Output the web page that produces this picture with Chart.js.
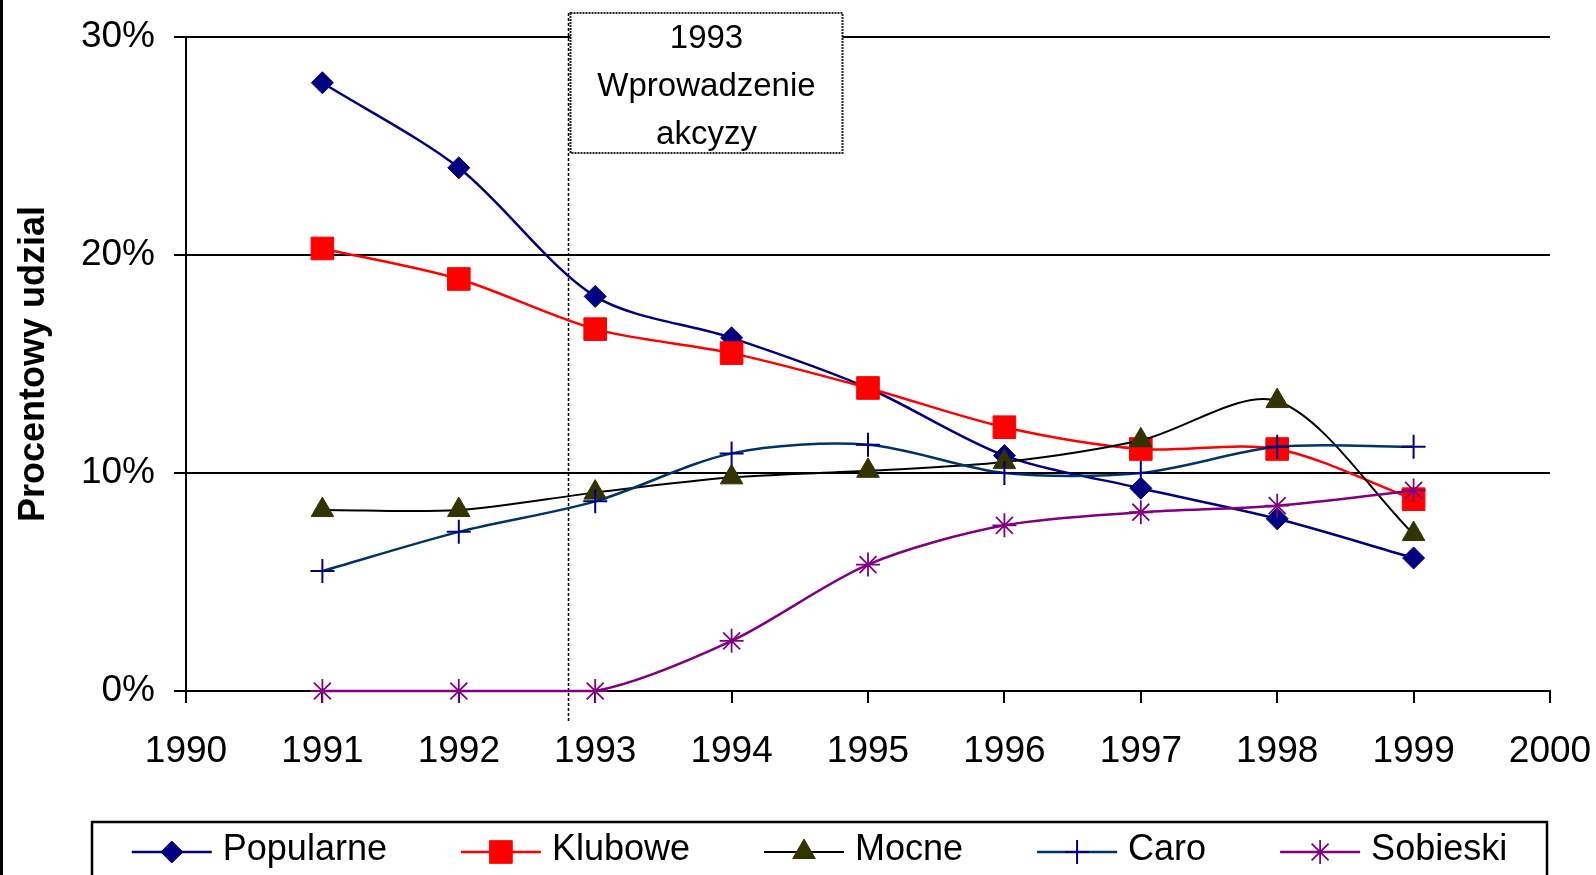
<!DOCTYPE html>
<html>
<head>
<meta charset="utf-8">
<title>Procentowy udzial</title>
<script src="https://cdn.jsdelivr.net/npm/chart.js@4.4.1/dist/chart.umd.min.js"></script>
<style>
  html, body { margin: 0; background: #fff; }
  canvas { display: block; }
</style>
</head>
<body>
<canvas id="chart" width="1596" height="875"></canvas>
<script>
// data (percent share per year)
const years = [1991, 1992, 1993, 1994, 1995, 1996, 1997, 1998, 1999];
const popularne = [27.9, 24.0, 18.1, 16.2, 13.9, 10.8, 9.3, 7.9, 6.1];
const klubowe = [20.3, 18.9, 16.6, 15.5, 13.9, 12.1, 11.1, 11.1, 8.8];
const mocne = [8.3, 8.3, 9.1, 9.8, 10.1, 10.5, 11.5, 13.3, 7.2];
const caro = [5.5, 7.3, 8.7, 10.9, 11.3, 10.0, 10.0, 11.2, 11.2];
const sobieski = [0, 0, 0, 2.3, 5.8, 7.6, 8.2, 8.5, 9.2];

const xTicks = [1990, 1991, 1992, 1993, 1994, 1995, 1996, 1997, 1998, 1999, 2000];
const yTicks = [0, 10, 20, 30];
const yTitle = 'Procentowy udzial';
const noteLines = ['1993', 'Wprowadzenie', 'akcyzy'];
const noteYear = 1992.8;

const FONT = "'Liberation Sans', Arial, sans-serif";

function points(values) {
    return values.map((v, i) => ({ x: years[i], y: v }));
}

function series(label, values, style) {
    return Object.assign({
        label: label,
        data: points(values),
        borderWidth: 2.5,
        tension: 0.3,
        fill: false,
        clip: false,
        pointBorderWidth: 1
    }, style);
}

const datasets = [
    series('Popularne', popularne, { borderColor: '#000080', pointStyle: 'rectRot', pointRadius: 11, pointBackgroundColor: '#000080', pointBorderColor: '#000080', order: 5 }),
    series('Klubowe', klubowe, { borderColor: '#ff0000', pointStyle: 'rect', pointRadius: 16, pointBackgroundColor: '#ff0000', pointBorderColor: '#ff0000', order: 4 }),
    series('Mocne', mocne, { borderColor: '#000000', borderWidth: 2, pointStyle: 'triangle', pointRadius: 13, pointBackgroundColor: '#333300', pointBorderColor: '#333300', order: 3 }),
    series('Caro', caro, { borderColor: '#003366', pointStyle: 'cross', pointRadius: 12, pointBackgroundColor: '#000080', pointBorderColor: '#000080', pointBorderWidth: 2, order: 2 }),
    series('Sobieski', sobieski, { borderColor: '#800080', pointStyle: 'star', pointRadius: 12, pointBackgroundColor: '#800080', pointBorderColor: '#800080', pointBorderWidth: 1.8, order: 1 })
];

// dotted marker line, note box, legend box and left frame edge
const extras = {
    id: 'extras',
    beforeDatasetsDraw(chart) {
        const ctx = chart.ctx;
        const lx = Math.round(chart.scales.x.getPixelForValue(noteYear)) + 0.5;
        ctx.save();
        ctx.strokeStyle = '#000';
        ctx.lineWidth = 1.5;
        ctx.setLineDash([3, 2]);
        ctx.beginPath();
        ctx.moveTo(lx, 13);
        ctx.lineTo(lx, 721);
        ctx.stroke();

        const bx = lx + 2, by = 13, bw = 272, bh = 140;
        ctx.setLineDash([]);
        ctx.fillStyle = '#fff';
        ctx.fillRect(bx, by, bw, bh);
        ctx.setLineDash([2, 1]);
        ctx.lineWidth = 2;
        ctx.strokeStyle = '#222';
        ctx.strokeRect(bx, by, bw, bh);

        ctx.setLineDash([]);
        ctx.fillStyle = '#000';
        ctx.font = '33px ' + FONT;
        ctx.textAlign = 'center';
        ctx.textBaseline = 'middle';
        noteLines.forEach((t, i) => ctx.fillText(t, bx + bw / 2, by + 26 + i * 48));
        ctx.restore();
    },
    afterDraw(chart) {
        const ctx = chart.ctx;
        ctx.save();
        ctx.fillStyle = '#000';
        ctx.fillRect(0, 0, 3, chart.height);

        // legend
        ctx.lineWidth = 2.5;
        ctx.strokeStyle = '#000';
        ctx.strokeRect(92, 822, 1455, 100);

        ctx.font = '36px ' + FONT;
        const sets = chart.data.datasets;
        const widths = sets.map(d => ctx.measureText(d.label).width);
        const total = widths.reduce((a, w) => a + 91 + w, 0) + 74 * (sets.length - 1);
        let x = 819.5 - total / 2;
        const ly = 852;
        sets.forEach((d, i) => {
            ctx.strokeStyle = d.borderColor;
            ctx.lineWidth = d.borderWidth;
            ctx.beginPath();
            ctx.moveTo(x, ly);
            ctx.lineTo(x + 80, ly);
            ctx.stroke();

            ctx.fillStyle = d.pointBackgroundColor;
            ctx.strokeStyle = d.pointBorderColor;
            ctx.lineWidth = d.pointBorderWidth;
            Chart.helpers.drawPoint(ctx, {
                pointStyle: d.pointStyle,
                radius: d.pointRadius,
                borderWidth: d.pointBorderWidth,
                rotation: 0
            }, x + 40, ly);

            ctx.fillStyle = '#000';
            ctx.textAlign = 'left';
            ctx.textBaseline = 'alphabetic';
            ctx.fillText(d.label, x + 91, 860);
            x += 91 + widths[i] + 74;
        });
        ctx.restore();
    }
};

new Chart(document.getElementById('chart').getContext('2d'), {
    type: 'line',
    data: { datasets: datasets },
    plugins: [extras],
    options: {
        responsive: false,
        animation: false,
        devicePixelRatio: 1,
        layout: { padding: { top: 37, right: 46, bottom: 0, left: 0 } },
        plugins: {
            legend: { display: false },
            tooltip: { enabled: false }
        },
        scales: {
            x: {
                type: 'linear',
                min: xTicks[0],
                max: xTicks[xTicks.length - 1],
                afterBuildTicks: scale => { scale.ticks = xTicks.map(v => ({ value: v })); },
                afterFit: scale => {
                    scale.height = 184;
                    scale.paddingLeft = 0;
                    scale.paddingRight = 0;
                },
                ticks: {
                    color: '#000',
                    font: { family: FONT, size: 37 },
                    padding: 27,
                    autoSkip: false,
                    maxRotation: 0,
                    callback: v => String(v)
                },
                grid: { drawOnChartArea: false, color: '#000', lineWidth: 2, tickLength: 12 },
                border: { color: '#000', width: 2 }
            },
            y: {
                min: yTicks[0],
                max: yTicks[yTicks.length - 1],
                afterBuildTicks: scale => { scale.ticks = yTicks.map(v => ({ value: v })); },
                afterFit: scale => {
                    scale.width = 186;
                    scale.paddingTop = 0;
                    scale.paddingBottom = 0;
                },
                ticks: {
                    color: '#000',
                    font: { family: FONT, size: 37 },
                    padding: 19,
                    callback: v => v + '%'
                },
                grid: { color: '#000', lineWidth: 2, tickLength: 12 },
                border: { color: '#000', width: 2 },
                title: {
                    display: true,
                    text: yTitle,
                    color: '#000',
                    font: { family: FONT, size: 36, weight: 'bold' },
                    padding: { top: 12, bottom: 0 }
                }
            }
        }
    }
});
</script>
</body>
</html>
